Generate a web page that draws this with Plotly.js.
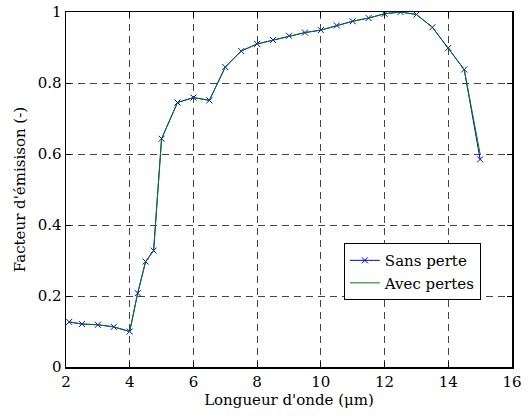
<!DOCTYPE html>
<html>
<head>
<meta charset="utf-8">
<script src="https://cdn.plot.ly/plotly-3.0.1.min.js"></script>
<style>html,body{margin:0;padding:0;background:#fff;}#chart{width:529px;height:416px;}</style>
</head>
<body>
<div id="chart"></div>
<script>
const wavelength = [2.1, 2.5, 3, 3.5, 4, 4.25, 4.5, 4.75, 5, 5.5, 6, 6.5, 7, 7.5, 8, 8.5, 9, 9.5, 10, 10.5, 11, 11.5, 12, 12.5, 13, 13.5, 14, 14.5, 15];
const sansPerte = [0.127, 0.121, 0.119, 0.113, 0.100, 0.208, 0.297, 0.328, 0.643, 0.745, 0.759, 0.751, 0.845, 0.890, 0.910, 0.921, 0.933, 0.942, 0.949, 0.962, 0.974, 0.983, 0.995, 1.0, 0.993, 0.957, 0.899, 0.838, 0.585];
const avecPertes = [0.127, 0.121, 0.119, 0.113, 0.100, 0.208, 0.297, 0.328, 0.643, 0.745, 0.759, 0.751, 0.845, 0.890, 0.910, 0.921, 0.933, 0.942, 0.949, 0.962, 0.974, 0.983, 0.995, 1.0, 0.993, 0.957, 0.899, 0.838, 0.600];
const xTicks = [2, 4, 6, 8, 10, 12, 14, 16];
const yTicks = [0, 0.2, 0.4, 0.6, 0.8, 1];
const yTickLabels = ['0', '0.2', '0.4', '0.6', '0.8', '1'];

const font = {family: 'DejaVu Serif', size: 15, color: '#000'};
const axisCommon = {
  showline: true, linecolor: '#000', linewidth: 1.5, mirror: 'allticks',
  ticks: 'inside', ticklen: 5, tickcolor: '#000', tickwidth: 1,
  showgrid: true, gridcolor: '#444', gridwidth: 1, griddash: '7px,5px',
  zeroline: false, tickfont: font
};
const data = [
  {x: wavelength, y: sansPerte, name: 'Sans perte', type: 'scatter', mode: 'lines+markers',
   line: {color: '#0000ff', width: 1}, marker: {symbol: 'x-thin', size: 6, color: '#0000ff', line: {color: '#0000ff', width: 1}}},
  {x: wavelength, y: avecPertes, name: 'Avec pertes', type: 'scatter', mode: 'lines',
   line: {color: '#008000', width: 1}}
];
const layout = {
  width: 529, height: 416,
  margin: {l: 66, r: 17, t: 12, b: 49},
  paper_bgcolor: '#fff', plot_bgcolor: '#fff',
  font: font,
  showlegend: true,
  legend: {x: 0.623, y: 0.349, xanchor: 'left', yanchor: 'top', bgcolor: '#fff', bordercolor: '#000', borderwidth: 1, font: font, tracegroupgap: 0},
  xaxis: Object.assign({}, axisCommon, {range: [2, 16], tickvals: xTicks, ticktext: xTicks.map(String),
    title: {text: "Longueur d'onde (μm)", font: font, standoff: 2}}),
  yaxis: Object.assign({}, axisCommon, {range: [0, 1], tickvals: yTicks, ticktext: yTickLabels,
    title: {text: "Facteur d'émisison (-)", font: font, standoff: 8}})
};
Plotly.newPlot('chart', data, layout, {displayModeBar: false, staticPlot: true});
</script>
</body>
</html>
